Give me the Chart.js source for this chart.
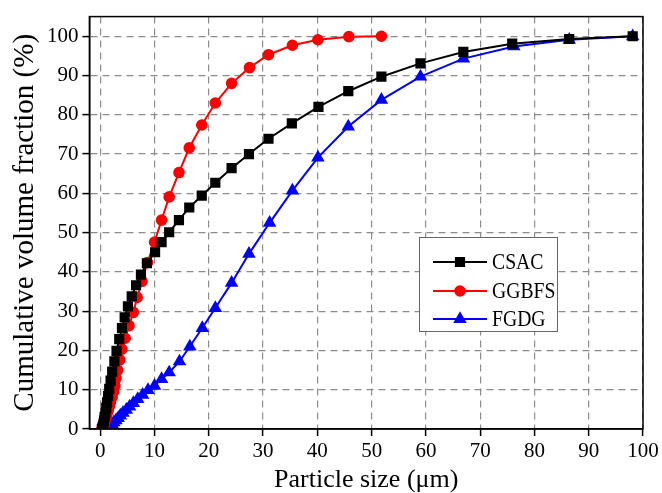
<!DOCTYPE html>
<html>
<head>
<meta charset="utf-8">
<script src="https://cdn.jsdelivr.net/npm/chart.js@4.4.1/dist/chart.umd.min.js"></script>
<style>
  html, body { margin: 0; padding: 0; background: #fff; }
  #wrap { width: 662px; height: 493px; }
</style>
</head>
<body>
<div id="wrap"><canvas id="psd"></canvas></div>
<script>
// Particle size distribution, cumulative volume fraction (%)
const csacSize = [0.3, 0.4, 0.5, 0.6, 0.7, 0.8, 0.95, 1.1, 1.25, 1.45, 1.65, 1.9, 2.2, 2.6, 3.0, 3.5, 4.0, 4.5, 5.1, 5.8, 6.6, 7.5, 8.6, 10.1, 11.3, 12.7, 14.5, 16.4, 18.7, 21.2, 24.2, 27.4, 31.0, 35.3, 40.2, 45.7, 51.8, 59.0, 66.9, 75.9, 86.4, 98.1];
const csacCum  = [0, 0.3, 0.8, 1.4, 2.2, 3.1, 4.2, 5.4, 6.8, 8.4, 10.2, 12.3, 14.6, 17.2, 19.9, 22.9, 25.7, 28.4, 31.2, 33.8, 36.6, 39.3, 42.2, 45.0, 47.6, 50.1, 53.2, 56.4, 59.4, 62.7, 66.4, 70.0, 73.9, 77.8, 82.0, 86.0, 89.7, 93.1, 96.0, 98.1, 99.3, 100];

const ggbfsSize = [0.3, 0.4, 0.5, 0.6, 0.68, 0.77, 0.88, 1.0, 1.15, 1.3, 1.5, 1.7, 1.9, 2.2, 2.45, 2.7, 2.9, 3.2, 3.6, 4.0, 4.6, 5.3, 6.1, 6.8, 7.7, 8.7, 10.0, 11.3, 12.7, 14.5, 16.4, 18.7, 21.2, 24.2, 27.5, 31.0, 35.4, 40.1, 45.8, 51.8];
const ggbfsCum  = [0, 0.1, 0.4, 0.7, 1.1, 1.6, 2.1, 2.7, 3.4, 4.1, 4.9, 5.8, 6.9, 8.1, 9.5, 11.0, 12.9, 15.0, 17.6, 20.3, 23.1, 26.3, 29.7, 33.5, 37.6, 42.4, 47.6, 53.2, 59.1, 65.3, 71.6, 77.4, 83.0, 88.0, 92.0, 95.3, 97.7, 99.1, 99.9, 100];

const fgdgSize = [0.6, 1.0, 1.3, 1.6, 1.9, 2.2, 2.5, 2.9, 3.3, 3.7, 4.2, 4.8, 5.4, 6.1, 6.9, 7.8, 8.8, 10.0, 11.3, 12.7, 14.6, 16.5, 18.8, 21.2, 24.2, 27.4, 31.2, 35.4, 40.1, 45.7, 51.8, 59.0, 66.9, 76.2, 86.4, 98.1];
const fgdgCum  = [0, 0.1, 0.2, 0.5, 0.8, 1.2, 1.7, 2.2, 2.8, 3.4, 4.1, 4.9, 5.7, 6.6, 7.6, 8.7, 9.9, 11.0, 12.7, 14.4, 17.2, 21.0, 25.7, 30.8, 37.2, 44.6, 52.5, 60.7, 69.1, 77.0, 83.8, 89.7, 94.3, 97.4, 99.1, 100];

const seriesNames = ['CSAC', 'GGBFS', 'FGDG'];
const xTicks = [0, 10, 20, 30, 40, 50, 60, 70, 80, 90, 100];
const yTicks = [0, 10, 20, 30, 40, 50, 60, 70, 80, 90, 100];

const SERIF = '"Liberation Serif", "Times New Roman", serif';

function toPoints(xs, ys) {
  return xs.map((x, i) => ({ x: x, y: ys[i] }));
}

// box round the plot + legend with a frame
const framePlugin = {
  id: 'frame',
  afterDraw(chart) {
    const { ctx, chartArea: a } = chart;
    ctx.save();
    ctx.strokeStyle = '#000';
    ctx.lineWidth = 1.5;
    ctx.strokeRect(a.left, a.top, a.right - a.left, a.bottom - a.top);

    // legend
    const bx = 419, by = 237, bw = 138, bh = 94;
    ctx.fillStyle = '#fff';
    ctx.fillRect(bx, by, bw, bh);
    ctx.strokeStyle = '#666';
    ctx.lineWidth = 1;
    ctx.strokeRect(bx + 0.5, by + 0.5, bw, bh);
    const rows = [262, 291, 319];
    chart.data.datasets.forEach((ds, i) => {
      const y = rows[i];
      ctx.strokeStyle = ds.borderColor;
      ctx.lineWidth = 2;
      ctx.beginPath();
      ctx.moveTo(433, y);
      ctx.lineTo(487, y);
      ctx.stroke();
      ctx.fillStyle = ds.borderColor;
      Chart.helpers.drawPoint(ctx, {
        pointStyle: ds.pointStyle,
        radius: ds.pointRadius,
        rotation: 0,
        borderWidth: 1
      }, 460, y);
      // narrow text, like the original
      ctx.save();
      ctx.translate(492, y + 1);
      ctx.scale(0.82, 1);
      ctx.fillStyle = '#000';
      ctx.font = '24px ' + SERIF;
      ctx.textBaseline = 'middle';
      ctx.textAlign = 'left';
      ctx.fillText(ds.label, 0, 0);
      ctx.restore();
    });
    ctx.restore();
  }
};

function keepTicks(list) {
  return function (scale) {
    scale.ticks = list.map(v => ({ value: v }));
  };
}

const ctx = document.getElementById('psd').getContext('2d');
new Chart(ctx, {
  type: 'line',
  data: {
    datasets: [
      {
        label: seriesNames[0],
        data: toPoints(csacSize, csacCum),
        borderColor: '#000000',
        backgroundColor: '#000000',
        pointStyle: 'rect',
        pointRadius: 5.8,
        borderWidth: 2
      },
      {
        label: seriesNames[1],
        data: toPoints(ggbfsSize, ggbfsCum),
        borderColor: '#ff0000',
        backgroundColor: '#ff0000',
        pointStyle: 'circle',
        pointRadius: 4.8,
        borderWidth: 2
      },
      {
        label: seriesNames[2],
        data: toPoints(fgdgSize, fgdgCum),
        borderColor: '#0000ff',
        backgroundColor: '#0000ff',
        pointStyle: 'triangle',
        pointRadius: 5.8,
        borderWidth: 2
      }
    ]
  },
  options: {
    responsive: true,
    maintainAspectRatio: false,
    animation: false,
    layout: { padding: { left: 9, right: 0, top: 16, bottom: 0 } },
    elements: { point: { borderWidth: 1, hoverRadius: 6 }, line: { tension: 0 } },
    plugins: {
      legend: { display: false },
      tooltip: { enabled: false }
    },
    scales: {
      x: {
        type: 'linear',
        min: -2,
        max: 100,
        afterBuildTicks: keepTicks(xTicks),
        afterFit(scale) { scale.paddingRight = 19; },
        ticks: { color: '#000', font: { family: SERIF, size: 21, lineHeight: 1.0 }, padding: 5, maxRotation: 0 },
        grid: { color: '#8c8c8c', lineWidth: 1.2, tickColor: '#000', tickLength: 7, tickWidth: 1.5, tickBorderDash: [] },
        border: { color: '#000', width: 1.5, dash: [7, 5] },
        title: { display: true, text: 'Particle size (μm)', color: '#000', font: { family: SERIF, size: 26, lineHeight: 1.0 }, padding: { top: 0, bottom: 0 } }
      },
      y: {
        type: 'linear',
        min: 0,
        max: 105,
        afterBuildTicks: keepTicks(yTicks),
        ticks: { color: '#000', font: { family: SERIF, size: 21 }, padding: 4 },
        grid: { color: '#8c8c8c', lineWidth: 1.2, tickColor: '#000', tickLength: 7, tickWidth: 1.5, tickBorderDash: [] },
        border: { color: '#000', width: 1.5, dash: [7, 5] },
        title: { display: true, text: 'Cumulative volume fraction (%)', color: '#000', font: { family: SERIF, size: 29, lineHeight: 1.1 }, padding: { top: 0, bottom: 2 } }
      }
    }
  },
  plugins: [framePlugin]
});
</script>
</body>
</html>
